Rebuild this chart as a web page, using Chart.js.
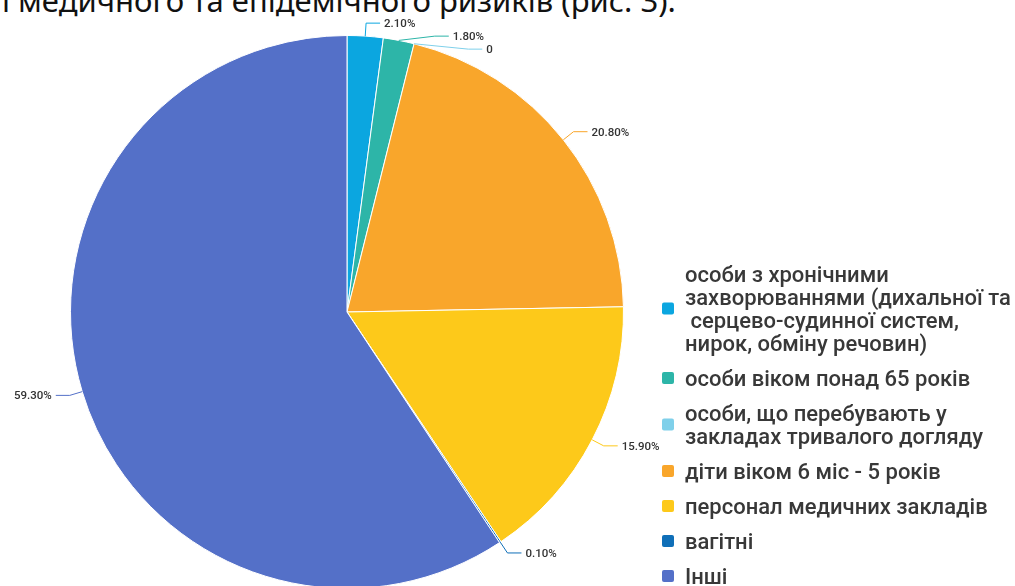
<!DOCTYPE html>
<html>
<head>
<meta charset="utf-8">
<script src="https://cdn.jsdelivr.net/npm/chart.js@4"></script>
<style>
html, body { margin: 0; padding: 0; background: #fff; overflow: hidden; width: 1015px; height: 586px; }
#caption { position: absolute; left: 2px; top: -15px; font: 31px "Noto Sans"; line-height: 31px; color: #111; white-space: nowrap; }
#riskChart { position: absolute; left: 0; top: 0; }
</style>
</head>
<body>
<div id="caption">і медичного та епідемічного ризиків (рис. 3).</div>
<canvas id="riskChart" width="1015" height="600"></canvas>
<script>
// legend labels, one entry per group (split into lines as in the original)
const groupLines = [
    ['особи з хронічними', 'захворюваннями (дихальної та', ' серцево-судинної систем,', 'нирок, обміну речовин)'],
    ['особи віком понад 65 років'],
    ['особи, що перебувають у', 'закладах тривалого догляду'],
    ['діти віком 6 міс - 5 років'],
    ['персонал медичних закладів'],
    ['вагітні'],
    ['Інші']
];
const shares = [2.1, 1.8, 0, 20.8, 15.9, 0.1, 59.3];
const sliceColors = ['#0ba6e0', '#2db5a8', '#7fd0ea', '#f9a62b', '#fdc91a', '#0f6fb8', '#5470c8'];

const fmt = v => v === 0 ? '0' : v.toFixed(2) + '%';

// outside labels with elbow leader lines
const leaderLabels = {
    id: 'leaderLabels',
    afterDatasetsDraw(chart) {
        const ctx = chart.ctx;
        const meta = chart.getDatasetMeta(0);
        const items = meta.data.map((arc, i) => {
            const p = arc.getProps(['x', 'y', 'startAngle', 'endAngle', 'outerRadius'], true);
            const mid = (p.startAngle + p.endAngle) / 2;
            const R = p.outerRadius + 13;
            return {
                i, cx: p.x, cy: p.y, R,
                ex: p.x + Math.cos(mid) * p.outerRadius,
                ey: p.y + Math.sin(mid) * p.outerRadius,
                kx: p.x + Math.cos(mid) * R,
                ky: p.y + Math.sin(mid) * R,
                right: Math.cos(mid) >= 0
            };
        });
        // push overlapping labels apart on each side
        [true, false].forEach(side => {
            const list = items.filter(d => d.right === side).sort((a, b) => a.ky - b.ky);
            for (let k = 1; k < list.length; k++) {
                const d = list[k];
                if (d.ky < list[k - 1].ky + 13) {
                    d.ky = list[k - 1].ky + 13;
                    const dy = d.ky - d.cy;
                    if (Math.abs(dy) < d.R) {
                        const dx = Math.sqrt(d.R * d.R - dy * dy);
                        d.kx = side ? Math.max(d.kx, d.cx + dx) : Math.min(d.kx, d.cx - dx);
                    }
                }
            }
        });
        ctx.save();
        ctx.font = '500 11.5px Roboto';
        ctx.textBaseline = 'middle';
        ctx.lineWidth = 1;
        items.forEach(d => {
            const dir = d.right ? 1 : -1;
            ctx.strokeStyle = sliceColors[d.i];
            ctx.beginPath();
            ctx.moveTo(d.ex, d.ey);
            ctx.lineTo(d.kx, d.ky);
            ctx.lineTo(d.kx + dir * 14, d.ky);
            ctx.stroke();
            ctx.fillStyle = '#333';
            ctx.textAlign = d.right ? 'left' : 'right';
            ctx.fillText(fmt(shares[d.i]), d.kx + dir * 18, d.ky + 1);
        });
        ctx.restore();
    }
};

// legend on the right with multi-line entries
const sideLegend = {
    id: 'sideLegend',
    afterDraw(chart) {
        const ctx = chart.ctx;
        const lineH = 23;
        let y = 276;
        ctx.save();
        ctx.font = '500 22px Roboto';
        ctx.textBaseline = 'middle';
        ctx.textAlign = 'left';
        groupLines.forEach((lines, i) => {
            const mid = y + (lines.length - 1) * lineH / 2 - 2;
            ctx.fillStyle = sliceColors[i];
            ctx.beginPath();
            ctx.roundRect(662, mid - 6, 12, 12, 2);
            ctx.fill();
            ctx.fillStyle = '#383838';
            lines.forEach((t, k) => ctx.fillText(t, 685, y + k * lineH));
            y += (lines.length - 1) * lineH + 35;
        });
        ctx.restore();
    }
};

new Chart(document.getElementById('riskChart'), {
    type: 'pie',
    data: {
        labels: groupLines.map(l => l.join(' ')),
        datasets: [{
            data: shares,
            backgroundColor: sliceColors,
            borderColor: '#fff',
            borderWidth: 1
        }]
    },
    options: {
        responsive: false,
        animation: false,
        layout: { padding: { left: 70, right: 391, top: 35, bottom: 11 } },
        plugins: {
            legend: { display: false },
            tooltip: { enabled: false }
        }
    },
    plugins: [leaderLabels, sideLegend]
});
</script>
</body>
</html>
